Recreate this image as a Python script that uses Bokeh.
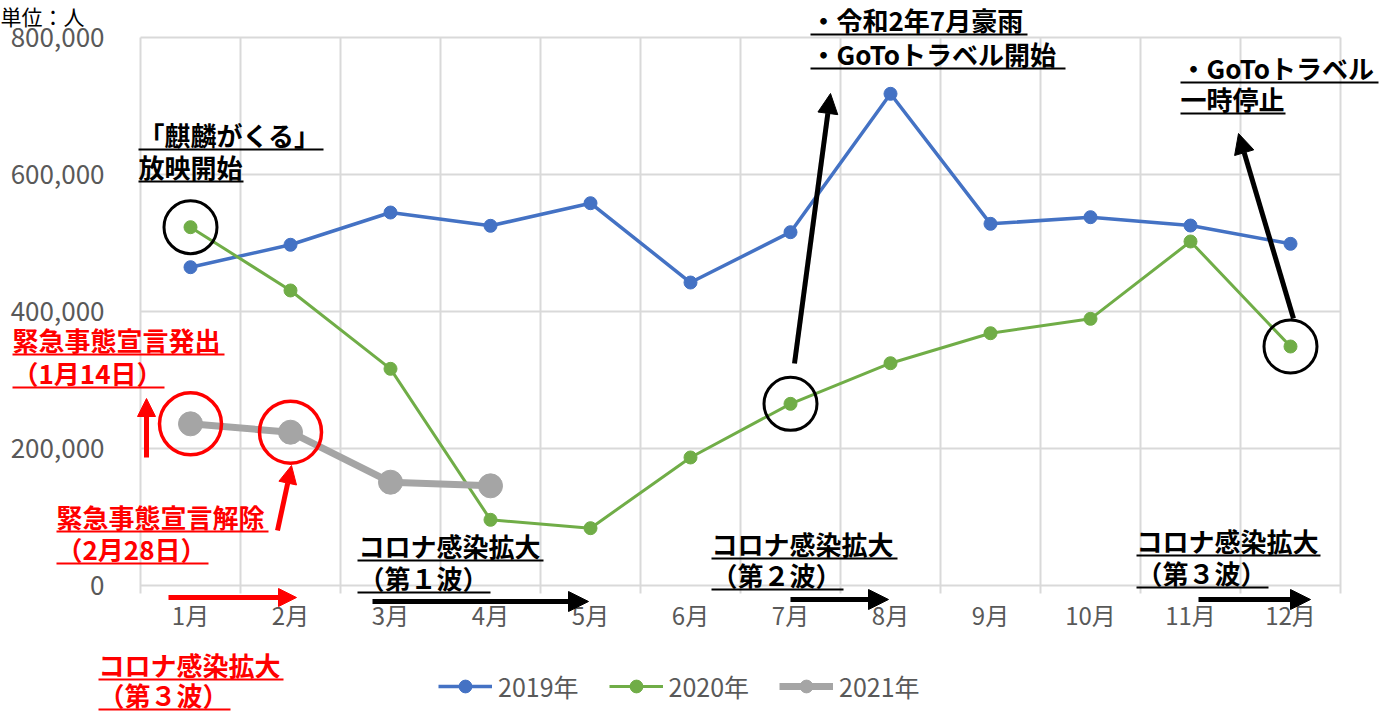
from bokeh.plotting import figure
from bokeh.models import (FixedTicker, NumeralTickFormatter, Label, Arrow, NormalHead,
                          Legend, LegendItem, LinearAxis)
from bokeh.embed import file_html
from bokeh.resources import INLINE

# ---------------- data ----------------
months = ["1月", "2月", "3月", "4月", "5月", "6月", "7月", "8月", "9月", "10月", "11月", "12月"]
month_idx = list(range(1, 13))
y2019 = [464700, 497400, 544500, 525100, 558100, 442300, 515800, 717800, 528000, 537700, 525500, 498800]
y2020 = [523100, 430700, 316300, 95900, 83700, 186900, 265200, 324500, 368300, 389300, 502200, 348900]
y2021 = [236000, 223800, 150800, 145500]
y_ticks = [0, 200000, 400000, 600000, 800000]
x_bounds = [i + 0.5 for i in range(0, 13)]

C2019 = "#4472C4"
C2020 = "#70AD47"
C2021 = "#A5A5A5"
GRID = "#d9d9d9"
LBL = "#595959"
RED = "#FF0000"
FONT = "Noto Sans CJK JP"

W, H = 1386, 712
# plot-area placement on the canvas (pixels)
FL, FR, FT, FB = 140, 1340, 37, 585
YMAX = 800000


def xd(px):
    return (px - FL) / ((FR - FL) / 12) + 0.5


def yd(py):
    return (FB - py) * YMAX / (FB - FT)


p = figure(width=W, height=H, output_backend="svg", toolbar_location=None,
           x_range=(xd(0), xd(W)), y_range=(yd(H), yd(0)),
           x_axis_type=None, y_axis_type=None,
           min_border_left=0, min_border_right=0, min_border_top=0, min_border_bottom=0)
p.outline_line_color = None
p.background_fill_color = "white"
p.border_fill_color = "white"

# gridlines (chart area) built from the tick arrays
tick_ext = yd(FB + 8)
p.segment(x0=x_bounds, y0=[tick_ext] * len(x_bounds), x1=x_bounds, y1=[YMAX] * len(x_bounds),
          line_color=GRID, line_width=2)
p.segment(x0=[x_bounds[0]] * len(y_ticks), y0=y_ticks, x1=[x_bounds[-1]] * len(y_ticks), y1=y_ticks,
          line_color=GRID, line_width=2)

# axes, fixed at the chart area's edges
xaxis = LinearAxis(fixed_location=0, ticker=FixedTicker(ticks=month_idx),
                   major_label_overrides={i: m for i, m in zip(month_idx, months)})
xaxis.axis_line_color = None
xaxis.major_tick_line_color = None
xaxis.minor_tick_line_color = None
xaxis.major_tick_out = 0
xaxis.major_tick_in = 0
xaxis.major_label_standoff = 11
xaxis.major_label_text_font = FONT
xaxis.major_label_text_font_size = "24px"
xaxis.major_label_text_color = LBL
p.add_layout(xaxis, "below")

yaxis = LinearAxis(fixed_location=x_bounds[0], ticker=FixedTicker(ticks=y_ticks),
                   formatter=NumeralTickFormatter(format="0,0"))
yaxis.axis_line_color = None
yaxis.major_tick_line_color = None
yaxis.minor_tick_line_color = None
yaxis.major_tick_out = 0
yaxis.major_tick_in = 0
yaxis.major_label_standoff = 36
yaxis.major_label_text_font = FONT
yaxis.major_label_text_font_size = "26px"
yaxis.major_label_text_color = LBL
p.add_layout(yaxis, "left")

# series
l19 = p.line(month_idx, y2019, line_color=C2019, line_width=3.5)
s19 = p.scatter(month_idx, y2019, size=13, fill_color=C2019, line_color=C2019)
l20 = p.line(month_idx, y2020, line_color=C2020, line_width=3)
s20 = p.scatter(month_idx, y2020, size=13, fill_color=C2020, line_color=C2020)
m21 = month_idx[:len(y2021)]
l21 = p.line(m21, y2021, line_color=C2021, line_width=7)
s21 = p.scatter(m21, y2021, size=24, fill_color=C2021, line_color=C2021)

# highlight circles around data points
black_idx = [0, 6, 11]
p.scatter([month_idx[i] for i in black_idx], [y2020[i] for i in black_idx], size=53,
          fill_color=None, line_color="black", line_width=3)
p.scatter(m21[:2], y2021[:2], size=62, fill_color=None, line_color=RED, line_width=3.5)


# ---------- annotations (positions given in canvas pixels) ----------
def text(t, px, py, color="black", bold=True, size="26px"):
    p.add_layout(Label(x=xd(px), y=yd(py - 4), text=t, text_color=color, text_font=FONT,
                       text_font_size=size, text_font_style="bold" if bold else "normal",
                       text_align="left", text_baseline="middle"))


def uline(x0, x1, py, color="black"):
    p.add_layout(Arrow(x_start=xd(x0), y_start=yd(py), x_end=xd(x1), y_end=yd(py),
                       start=None, end=None, line_color=color, line_width=2))


def arrow(x0, y0, x1, y1, color="black", lw=5, hs=20):
    p.add_layout(Arrow(x_start=xd(x0), y_start=yd(y0), x_end=xd(x1), y_end=yd(y1),
                       line_color=color, line_width=lw,
                       end=NormalHead(size=hs, fill_color=color, line_color=color, line_width=1)))


text("単位：人", 0, 19, bold=False, size="21px")

text("「麒麟がくる」", 138, 138); uline(138, 323, 149)
text("放映開始", 138, 170); uline(138, 243, 181)

text("・令和2年7月豪雨", 810, 23); uline(810, 1027, 34)
text("・GoToトラベル開始", 810, 57); uline(810, 1065, 68)

text("・GoToトラベル", 1180, 71); uline(1180, 1378, 82)
text("一時停止", 1180, 102); uline(1180, 1285, 113)

text("緊急事態宣言発出", 12, 343, RED); uline(12, 224, 354, RED)
text("（1月14日）", 12, 376, RED); uline(12, 164, 387, RED)
text("緊急事態宣言解除", 56, 520, RED); uline(56, 268, 531, RED)
text("（2月28日）", 56, 552, RED); uline(56, 208, 563, RED)

text("コロナ感染拡大", 358, 549); uline(357, 543, 560)
text("（第１波）", 358, 581); uline(357, 490, 592)
text("コロナ感染拡大", 711, 547); uline(711, 897, 558)
text("（第２波）", 711, 578); uline(711, 843, 589)
text("コロナ感染拡大", 1136, 544); uline(1136, 1320, 555)
text("（第３波）", 1136, 576); uline(1136, 1268, 587)

text("コロナ感染拡大", 98, 668, RED); uline(98, 283, 679, RED)
text("（第３波）", 98, 698, RED); uline(98, 230, 709, RED)

# arrows
arrow(146, 457, 146, 398, RED, lw=5, hs=18)
arrow(277, 530, 291, 465, RED, lw=5, hs=18)
arrow(168, 597, 296, 597, RED, lw=5, hs=18)
arrow(372, 601, 588, 601)
arrow(790, 599, 888, 599)
arrow(1198, 599, 1310, 599)
arrow(794, 363, 830, 93)
arrow(1293, 318, 1238, 133)

# legend
legend = Legend(items=[LegendItem(label="2019年", renderers=[l19, s19]),
                       LegendItem(label="2020年", renderers=[l20, s20]),
                       LegendItem(label="2021年", renderers=[l21, s21])],
                orientation="horizontal", location=(438, 8),
                glyph_width=54, glyph_height=32, label_standoff=6, spacing=30,
                padding=0, margin=0, border_line_color=None, background_fill_alpha=0,
                label_text_font=FONT, label_text_font_size="25px", label_text_color=LBL)
p.add_layout(legend)

open("out.html", "w").write(file_html(p, INLINE))
